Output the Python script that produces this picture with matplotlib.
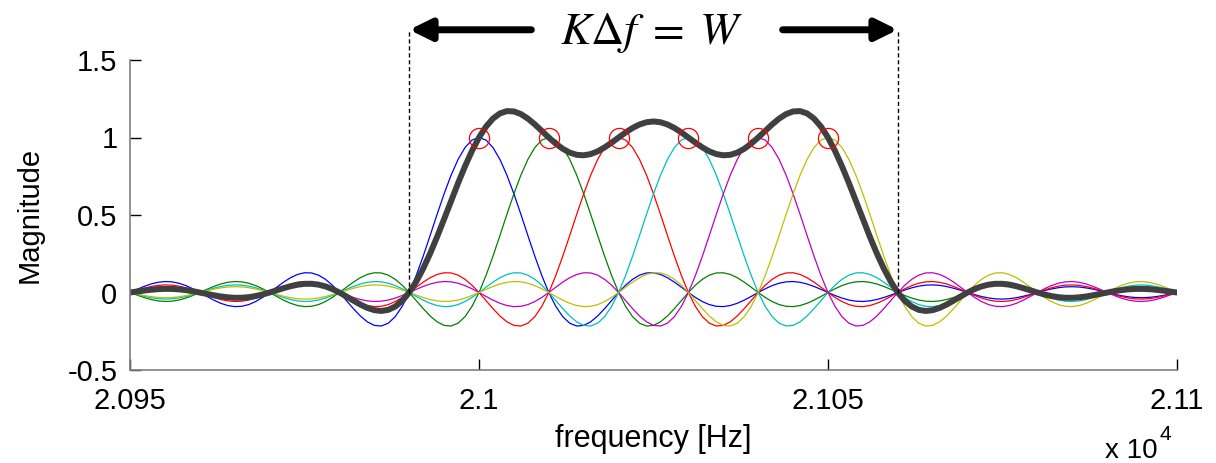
import numpy as np
import matplotlib
matplotlib.use('Agg')
import matplotlib.pyplot as plt

plt.rcParams['font.family'] = ['Liberation Sans', 'DejaVu Sans']
plt.rcParams['mathtext.fontset'] = 'stix'

# subcarrier centre frequencies [Hz] and spacing
centers = [21000, 21010, 21020, 21030, 21040, 21050]
delta_f = 10
f_min, f_max, f_step = 20950, 21100, 1
band_edges = [20990, 21060]

colors = [(0, 0, 1), (0, 0.5, 0), (1, 0, 0), (0, 0.75, 0.75),
          (0.75, 0, 0.75), (0.75, 0.75, 0)]
sum_color = (0.25, 0.25, 0.25)

freq = np.arange(f_min, f_max + f_step, f_step)
spectra = [np.sinc((freq - fc) / delta_f) for fc in centers]
total = np.sum(spectra, axis=0)

fig = plt.figure(figsize=(12.16, 4.63), dpi=100)
ax = fig.add_axes([130 / 1216, 93 / 463, 1047 / 1216, 310 / 463])

for s, c in zip(spectra, colors):
    ax.plot(freq, s, color=c, lw=0.9)
ax.plot(freq, total, color=sum_color, lw=4.3, solid_capstyle='round')
ax.plot(centers, np.ones(len(centers)), 'o', mfc='none', mec='red',
        ms=14.5, mew=0.9)

ax.set_xlim(f_min, f_max)
ax.set_ylim(-0.5, 1.5)
ax.set_xticks([20950, 21000, 21050, 21100])
ax.set_xticklabels(['2.095', '2.1', '2.105', '2.11'])
ax.set_yticks([-0.5, 0, 0.5, 1, 1.5])
ax.set_yticklabels(['-0.5', '0', '0.5', '1', '1.5'])
ax.tick_params(direction='in', length=8, width=1, colors='black',
               labelsize=21)
ax.tick_params(axis='x', pad=12)
ax.tick_params(axis='y', pad=9)
for side in ['top', 'right']:
    ax.spines[side].set_visible(False)
for side in ['left', 'bottom']:
    ax.spines[side].set_color('#808080')
    ax.spines[side].set_linewidth(1.2)

ax.set_ylabel('Magnitude', fontsize=21, labelpad=17)
ax.set_xlabel('frequency [Hz]', fontsize=22, labelpad=7)

# bandwidth markers above the plot
y_top = 1.695
for fe in band_edges:
    ax.plot([fe, fe], [0, y_top], color='black', lw=1, ls=(0, (3, 2)),
            clip_on=False)
arrow = dict(arrowstyle='-|>,head_length=0.65,head_width=0.32',
             mutation_scale=20, lw=5, color='black', shrinkA=0, shrinkB=0)
ax.annotate('', xy=(band_edges[0], y_top), xytext=(21007.5, y_top),
            arrowprops=arrow, annotation_clip=False)
ax.annotate('', xy=(band_edges[1], y_top), xytext=(21043.5, y_top),
            arrowprops=arrow, annotation_clip=False)
ax.text(np.mean(band_edges) - 0.3, y_top - 0.02, r'$K\Delta f\;=\;W$',
        fontsize=33, ha='center', va='center')

fig.text(1105 / 1216, 5 / 463, 'x 10', fontsize=20, va='baseline')
fig.text(1160 / 1216, 23 / 463, '4', fontsize=15, va='baseline')

fig.savefig('out.png', dpi=100)
